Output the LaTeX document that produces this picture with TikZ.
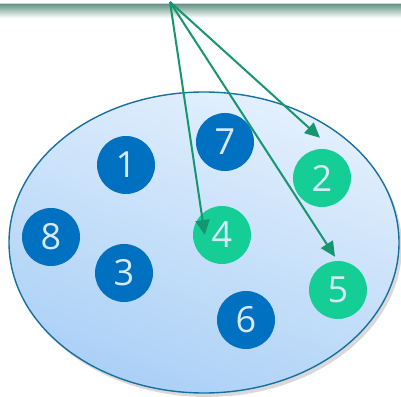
\documentclass[tikz,border=0pt]{standalone}
\usepackage{fontspec}
\setmainfont{Open Sans}
\usetikzlibrary{positioning,shadows,arrows.meta}
\definecolor{dotblue}{RGB}{0,112,192}
\definecolor{dotgreen}{RGB}{20,206,150}
\definecolor{digitlight}{RGB}{216,234,250}
\definecolor{pickgreen}{RGB}{22,150,110}
\definecolor{rimblue}{RGB}{22,112,160}
\definecolor{barteal}{RGB}{100,148,132}
\definecolor{setlight}{RGB}{228,240,253}
\definecolor{setdeep}{RGB}{170,208,246}

\begin{document}
\begin{tikzpicture}[x=1pt,y=1pt,
    dot/.style={circle, minimum size=58pt, inner sep=0pt, text=digitlight,
        font=\fontsize{36}{36}\selectfont},
    bluedot/.style={dot, fill=dotblue},
    greendot/.style={dot, fill=dotgreen},
    pick/.style={draw=pickgreen, line width=2pt,
        -{Triangle[length=15pt,width=14pt]}}]
\useasboundingbox (0,0) rectangle (401,396);

% Top bar
\shade[top color=barteal, bottom color=white] (0,378) rectangle (401,392);
\draw[gray!35, line width=1pt] (0,392.5) -- (401,392.5);

% The set
\path[draw=rimblue, line width=1.4pt, top color=setlight, bottom color=setdeep,
    shading angle=-20,
    drop shadow={shadow xshift=3pt, shadow yshift=-4pt, opacity=0.3}]
    (204,153.5) ellipse (195 and 150.5);

% Elements (not picked)
\foreach \n/\x/\y in {1/126/231, 8/51/159, 3/124/123, 7/225/254, 6/246/76}
    \node[bluedot] (n\n) at (\x,\y) {\n};

% Elements (picked)
\foreach \n/\x/\y in {2/322/218, 4/222/161, 5/338/106}
    \node[greendot] (n\n) at (\x,\y) {\n};

% Picks from the top
\coordinate (src) at (170,394);
\draw[pick] (src) -- ([xshift=-2pt,yshift=11pt]n2.north);
\draw[pick] (src) -- ([xshift=12pt]n4.west);
\draw[pick] (src) -- ([xshift=-3pt,yshift=4pt]n5.north);
\end{tikzpicture}
\end{document}
